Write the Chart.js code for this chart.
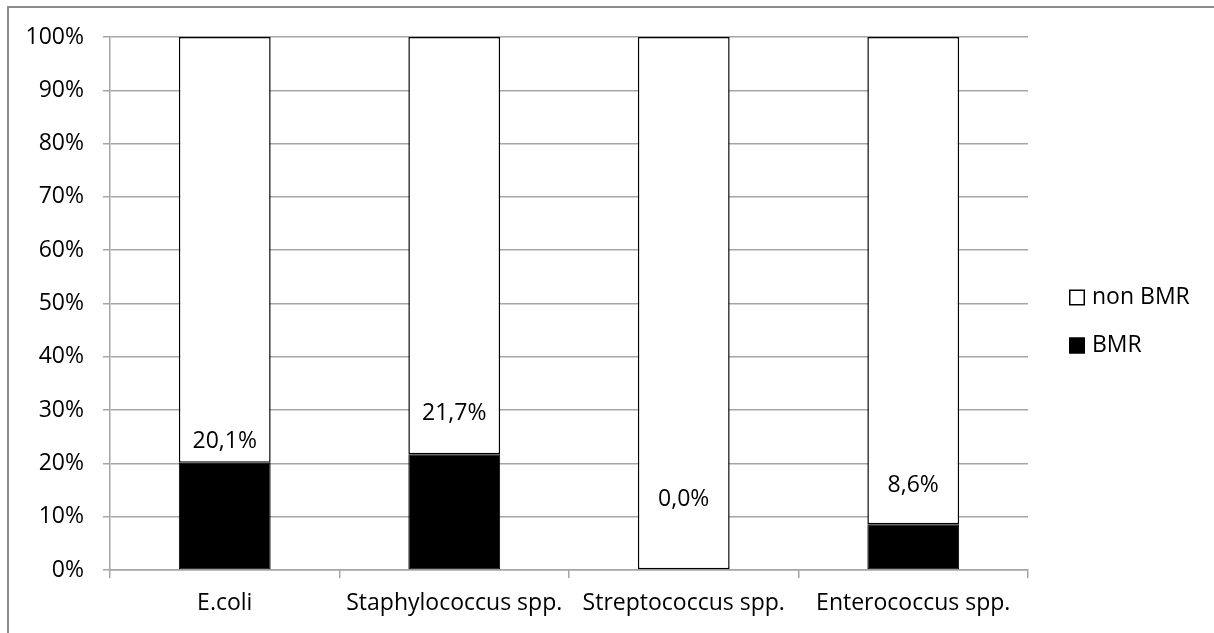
<!DOCTYPE html>
<html>
<head>
<meta charset="utf-8">
<script src="https://cdn.jsdelivr.net/npm/chart.js@4/dist/chart.umd.min.js"></script>
<style>
  html, body { margin: 0; padding: 0; background: #fff; }
  #wrap { position: relative; width: 1214px; height: 633px; }
  #frame { position: absolute; left: 7px; top: 6px; right: 0; bottom: 0;
           border-top: 2px solid #8c8c8c; border-left: 2px solid #8c8c8c; }
  canvas { position: absolute; left: 0; top: 0; }
</style>
</head>
<body>
<div id="wrap">
  <div id="frame"></div>
  <canvas id="barChart" width="1214" height="633"></canvas>
</div>

<script>
  // data
  var categories = ['E.coli', 'Staphylococcus spp.', 'Streptococcus spp.', 'Enterococcus spp.'];
  var bmr = [20.1, 21.7, 0.0, 8.6];
  var nonBmr = [79.9, 78.3, 100.0, 91.4];
  var yTicks = [0, 10, 20, 30, 40, 50, 60, 70, 80, 90, 100];

  var fontFamily = "'Open Sans', 'Liberation Sans', sans-serif";
  var fontSize = 23;
  var gridGray = '#a6a6a6';

  // how far each % label sits above the top of its black bar (px)
  var labelLift = [21, 41, 71, 39];

  var fmt = function (v) { return v.toFixed(1).replace('.', ',') + '%'; };

  var valueLabels = {
    id: 'valueLabels',
    afterDatasetsDraw: function (chart) {
      var ctx = chart.ctx;
      var meta = chart.getDatasetMeta(0);
      var y = chart.scales.y;
      ctx.save();
      ctx.font = fontSize + 'px ' + fontFamily;
      ctx.fillStyle = '#000';
      ctx.textAlign = 'center';
      ctx.textBaseline = 'middle';
      meta.data.forEach(function (bar, i) {
        ctx.fillText(fmt(bmr[i]), bar.x, y.getPixelForValue(bmr[i]) - labelLift[i]);
      });
      ctx.restore();
    }
  };

  // legend to the right of the plot, non BMR above BMR
  var sideLegend = {
    id: 'sideLegend',
    afterDraw: function (chart) {
      var ctx = chart.ctx;
      var area = chart.chartArea;
      var items = [
        { text: 'non BMR', fill: '#fff', dy: -24 },
        { text: 'BMR', fill: '#000', dy: 24 }
      ];
      var mid = (area.top + area.bottom) / 2 + 18;
      var x0 = area.right + 41;
      ctx.save();
      ctx.font = fontSize + 'px ' + fontFamily;
      ctx.textBaseline = 'middle';
      ctx.textAlign = 'left';
      items.forEach(function (it) {
        var cy = mid + it.dy;
        ctx.fillStyle = it.fill;
        ctx.fillRect(x0, cy - 8, 16, 16);
        ctx.strokeStyle = '#000';
        ctx.lineWidth = 1.5;
        ctx.strokeRect(x0 + 0.75, cy - 7.25, 14.5, 14.5);
        ctx.fillStyle = '#000';
        ctx.fillText(it.text, x0 + 23, cy);
      });
      ctx.restore();
    }
  };

  var ctxB = document.getElementById('barChart').getContext('2d');
  var chart = new Chart(ctxB, {
    type: 'bar',
    data: {
      labels: categories,
      datasets: [
        {
          label: 'BMR',
          data: bmr,
          backgroundColor: '#000',
          borderColor: '#000',
          borderWidth: 1,
          borderSkipped: false
        },
        {
          label: 'non BMR',
          data: nonBmr,
          backgroundColor: '#fff',
          borderColor: '#000',
          borderWidth: 1.5,
          borderSkipped: false
        }
      ]
    },
    options: {
      responsive: false,
      animation: false,
      layout: { padding: { left: 0, right: 186, top: 37, bottom: 0 } },
      datasets: { bar: { categoryPercentage: 1, barPercentage: 0.4 } },
      plugins: {
        legend: { display: false },
        tooltip: { enabled: false }
      },
      scales: {
        x: {
          stacked: true,
          afterFit: function (s) { s.height = 63; },
          grid: {
            offset: true,
            drawOnChartArea: false,
            tickLength: 8,
            color: gridGray,
            lineWidth: 1.5
          },
          border: { color: gridGray, width: 1.5 },
          ticks: {
            color: '#000',
            padding: 12,
            font: { family: fontFamily, size: fontSize }
          }
        },
        y: {
          stacked: true,
          min: 0,
          max: 100,
          afterFit: function (s) { s.width = 110; },
          afterBuildTicks: function (s) {
            s.ticks = yTicks.map(function (v) { return { value: v }; });
          },
          grid: { color: gridGray, lineWidth: 1.5, tickLength: 7 },
          border: { color: gridGray, width: 1.5 },
          ticks: {
            color: '#000',
            padding: 19,
            font: { family: fontFamily, size: fontSize },
            callback: function (v) { return v + '%'; }
          }
        }
      }
    },
    plugins: [valueLabels, sideLegend]
  });
</script>
</body>
</html>
